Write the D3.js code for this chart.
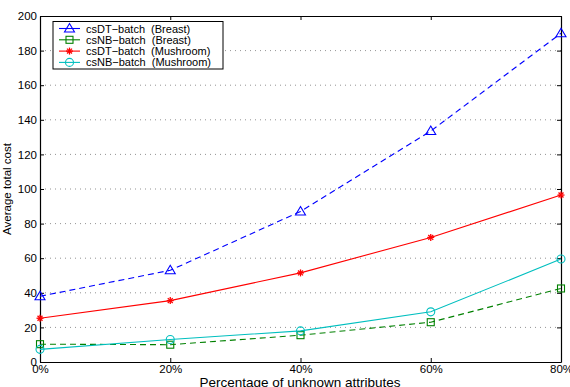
<!DOCTYPE html>
<html><head><meta charset="utf-8">
<script src="https://cdn.jsdelivr.net/npm/d3@7"></script>
<style>body{margin:0;background:#fff}text{font-family:"Liberation Sans",Arial,sans-serif}</style>
</head><body>
<svg id="c" width="570" height="387"></svg>
<script>
const categories = ["0%","20%","40%","60%","80%"];
const xValues = [0,20,40,60,80];
const csDTBreast = [38, 53, 87, 133.5, 190];
const csNBBreast = [10.3, 10, 15.5, 23, 42.5];
const csDTMushroom = [25.3, 35.5, 51.5, 72, 96.5];
const csNBMushroom = [7.3, 13, 18, 29, 59.5];
const yTicks = [0,20,40,60,80,100,120,140,160,180,200];
const seriesNames = ["csDT\u2212batch  (Breast)","csNB\u2212batch  (Breast)","csDT\u2212batch  (Mushroom)","csNB\u2212batch  (Mushroom)"];

const series = [
  {name: seriesNames[0], values: csDTBreast, color: "#0000ff", dash: "6,4", marker: "triangle"},
  {name: seriesNames[1], values: csNBBreast, color: "#008000", dash: "6,4", marker: "square"},
  {name: seriesNames[2], values: csDTMushroom, color: "#ff0000", dash: null, marker: "star"},
  {name: seriesNames[3], values: csNBMushroom, color: "#00bfbf", dash: null, marker: "circle"}
];

const svg = d3.select("#c");
const L = 40, R = 561, T = 16, B = 362;
const x = d3.scaleLinear().domain([0,80]).range([L,R]);
const y = d3.scaleLinear().domain([0,200]).range([B,T]);

// grid
svg.append("g").selectAll("line").data(yTicks.slice(1,-1)).join("line")
  .attr("x1",L).attr("x2",R).attr("y1",d=>y(d)).attr("y2",d=>y(d))
  .attr("stroke","#777").attr("stroke-width",0.8).attr("stroke-dasharray","1,4");

// axes
const ax = svg.append("g").attr("transform",`translate(0,${B})`)
  .call(d3.axisBottom(x).tickValues(xValues).tickFormat((d,i)=>categories[i]).tickSizeInner(-4).tickSizeOuter(0).tickPadding(2.5));
const ay = svg.append("g").attr("transform",`translate(${L},0)`)
  .call(d3.axisLeft(y).tickValues(yTicks).tickSizeInner(-4).tickSizeOuter(0).tickPadding(3));
const axt = svg.append("g").attr("transform",`translate(0,${T})`)
  .call(d3.axisTop(x).tickValues(xValues).tickFormat("").tickSizeInner(-4).tickSizeOuter(0));
const ayr = svg.append("g").attr("transform",`translate(${R},0)`)
  .call(d3.axisRight(y).tickValues(yTicks).tickFormat("").tickSizeInner(-4).tickSizeOuter(0));
[ax,ay,axt,ayr].forEach(g=>{
  g.selectAll(".domain").attr("stroke","#000").attr("stroke-width",1.2);
  g.selectAll(".tick line").attr("stroke","#000");
  g.selectAll("text").attr("font-size",11.5).attr("fill","#000").attr("font-family","Liberation Sans, Arial, sans-serif");
});

// lines
const line = d3.line().x((d,i)=>x(xValues[i])).y(d=>y(d));
function marker(g, type, cx, cy, color){
  const s = 4;
  if(type==="triangle"){
    g.append("path").attr("d",`M${cx},${cy-s-1}L${cx+s+1},${cy+s-0.5}L${cx-s-1},${cy+s-0.5}Z`).attr("fill","none").attr("stroke",color).attr("stroke-width",1.1);
  } else if(type==="square"){
    g.append("rect").attr("x",cx-3.5).attr("y",cy-3.5).attr("width",7).attr("height",7).attr("fill","none").attr("stroke",color).attr("stroke-width",1.1);
  } else if(type==="circle"){
    g.append("circle").attr("cx",cx).attr("cy",cy).attr("r",4).attr("fill","none").attr("stroke",color).attr("stroke-width",1.1);
  } else {
    const r=3.5;
    for(let k=0;k<4;k++){
      const a=k*Math.PI/4;
      g.append("line").attr("x1",cx-r*Math.cos(a)).attr("y1",cy-r*Math.sin(a)).attr("x2",cx+r*Math.cos(a)).attr("y2",cy+r*Math.sin(a)).attr("stroke",color).attr("stroke-width",1.3);
    }
  }
}
series.forEach(s=>{
  const g = svg.append("g");
  g.append("path").attr("d",line(s.values)).attr("fill","none").attr("stroke",s.color).attr("stroke-width",1.1)
    .attr("stroke-dasharray",s.dash);
  s.values.forEach((v,i)=>marker(g,s.marker,x(xValues[i]),y(v),s.color));
});

// legend
const lg = svg.append("g");
lg.append("rect").attr("x",53).attr("y",21.5).attr("width",170).attr("height",47.5).attr("fill","#fff").attr("stroke","#000").attr("stroke-width",1);
series.forEach((s,i)=>{
  const cy = 28.5 + i*11.3;
  lg.append("line").attr("x1",59).attr("x2",80).attr("y1",cy).attr("y2",cy).attr("stroke",s.color).attr("stroke-width",1.1);
  marker(lg,s.marker,69.5,cy,s.color);
  lg.append("text").attr("x",86).attr("y",cy+4).attr("font-size",11).style("white-space","pre").text(s.name);
});

// axis titles
svg.append("text").attr("x",300).attr("y",386.5).attr("text-anchor","middle").attr("font-size",13.5).text("Percentage of unknown attributes");
svg.append("text").attr("transform","translate(11,189) rotate(-90)").attr("text-anchor","middle").attr("font-size",11.5).text("Average total cost");
</script>
</body></html>
